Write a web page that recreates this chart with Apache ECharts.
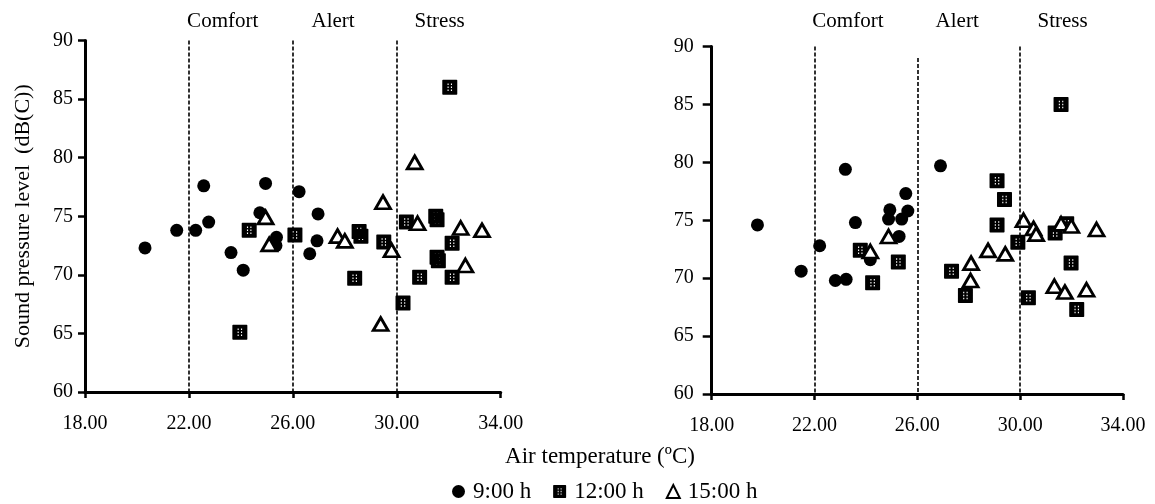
<!DOCTYPE html>
<html>
<head>
<meta charset="utf-8">
<title>Sound pressure level vs air temperature</title>
<script src="https://cdn.jsdelivr.net/npm/echarts@6/dist/echarts.min.js"></script>
<style>
    html, body { margin: 0; padding: 0; background: #fff; }
    #chart { width: 1155px; height: 504px; }
</style>
</head>
<body>
<div id="chart"></div>
<script>
// 坐标轴刻度
const xTicks = [18, 22, 26, 30, 34];
const yTicks = [60, 65, 70, 75, 80, 85, 90];

// 分区名称与标注位置（温度）
const zoneNames = ['Comfort', 'Alert', 'Stress'];
const zoneLabelX = [23.3, 27.55, 31.65];
const zoneLines = [22, 26, 30];
// 虚线顶端（dB）
const zoneTopLeft = [90, 90, 90];
const zoneTopRight = [90, 89, 90];

// 图例名称
const seriesNames = ['9:00 h', '12:00 h', '15:00 h'];

// 左图数据 [气温, 声压级]
const left9 = [[20.31, 72.3], [21.53, 73.8], [22.26, 73.8], [22.57, 77.6], [22.76, 74.5],
    [23.62, 71.9], [24.09, 70.4], [24.73, 75.3], [24.95, 77.8], [25.37, 73.2],
    [25.35, 72.5], [26.24, 77.1], [26.97, 75.2], [26.93, 72.9], [26.65, 71.8]];
const left12 = [[24.32, 73.8], [23.96, 65.1], [26.08, 73.4], [28.38, 69.7], [28.55, 73.7],
    [28.62, 73.3], [29.5, 72.8], [30.37, 74.5], [30.88, 69.8], [30.24, 67.6],
    [31.5, 75.0], [31.55, 74.7], [32.13, 72.7], [31.55, 71.5], [31.6, 71.2],
    [32.13, 69.8], [32.04, 86.0]];
const left15 = [[24.95, 74.9], [25.09, 72.6], [27.72, 73.3], [28.0, 72.9], [29.47, 76.2],
    [29.8, 72.1], [29.38, 65.8], [30.8, 74.4], [30.69, 79.6], [32.46, 74.0],
    [33.28, 73.8], [32.64, 70.8]];

// 右图数据 [气温, 声压级]
const right9 = [[19.78, 74.6], [21.48, 70.6], [22.2, 72.8], [22.81, 69.8], [23.23, 69.9],
    [23.2, 79.4], [23.59, 74.8], [24.17, 71.6], [24.88, 75.1], [24.93, 75.9],
    [25.29, 73.6], [25.39, 75.1], [25.63, 75.8], [25.55, 77.3], [26.9, 79.7]];
const right12 = [[23.78, 72.4], [24.26, 69.6], [25.26, 71.4], [27.33, 70.6], [27.87, 68.5],
    [29.1, 74.6], [29.39, 76.8], [29.1, 78.4], [29.91, 73.1], [30.32, 68.3],
    [31.36, 73.9], [31.81, 74.7], [31.98, 71.3], [32.2, 67.3], [31.59, 85.0]];
const right15 = [[24.17, 72.3], [24.88, 73.6], [28.09, 71.3], [28.07, 69.8], [28.75, 72.4],
    [29.42, 72.1], [30.13, 75.0], [30.52, 74.3], [30.62, 73.8], [31.59, 74.7],
    [31.99, 74.5], [32.97, 74.2], [31.33, 69.3], [31.74, 68.8], [32.58, 69.0]];

const FONT = 'Liberation Serif';

// 带白点的方块符号
const dotSquare = 'path://M1 0H19Q20 0 20 1V19Q20 20 19 20H1Q0 20 0 19V1Q0 0 1 0Z' +
    'M7 5V7H8.5V5Z M11.5 5V7H13V5Z' +
    'M7 9V11H8.5V9Z M11.5 9V11H13V9Z' +
    'M7 13V15H8.5V13Z M11.5 13V15H13V13Z';

document.addEventListener('DOMContentLoaded', function() {
    const chart = echarts.init(document.getElementById('chart'), null, { renderer: 'canvas' });

    // 横轴
    const makeXAxis = (gridIndex) => ({
        type: 'value',
        gridIndex: gridIndex,
        min: xTicks[0],
        max: xTicks[xTicks.length - 1],
        interval: 4,
        splitLine: { show: false },
        axisLine: { lineStyle: { color: '#000', width: 3 } },
        axisTick: { inside: false, length: 6, lineStyle: { color: '#000', width: 2.5 } },
        axisLabel: {
            color: '#000', fontFamily: FONT, fontSize: 20, margin: 22,
            formatter: v => v.toFixed(2)
        }
    });

    // 纵轴
    const makeYAxis = (gridIndex, withName, tickLen, labelGap) => ({
        type: 'value',
        gridIndex: gridIndex,
        min: yTicks[0],
        max: yTicks[yTicks.length - 1],
        interval: 5,
        name: withName ? 'Sound pressure level  (dB(C))' : '',
        nameLocation: 'middle',
        nameGap: 51,
        nameTextStyle: { color: '#000', fontFamily: FONT, fontSize: 22 },
        splitLine: { show: false },
        axisLine: { show: true, lineStyle: { color: '#000', width: 3 } },
        axisTick: { show: true, length: tickLen, lineStyle: { color: '#000', width: 2.5 } },
        axisLabel: { color: '#000', fontFamily: FONT, fontSize: 20, margin: labelGap }
    });

    // 分区虚线
    const makeZoneLines = (tops) => ({
        silent: true,
        symbol: 'none',
        animation: false,
        label: { show: false },
        lineStyle: { color: '#000', type: [4, 2], width: 1.6, opacity: 1 },
        emphasis: { disabled: true },
        data: zoneLines.map((x, i) => [{ coord: [x, tops[i]] }, { coord: [x, yTicks[0]] }])
    });

    const circleStyle = { symbol: 'circle', symbolSize: 13, itemStyle: { color: '#000', opacity: 1 } };
    const squareStyle = { symbol: dotSquare, symbolSize: 15, itemStyle: { color: '#000', opacity: 1 } };
    const triStyle = {
        symbol: 'triangle', symbolSize: [15, 13],
        itemStyle: { color: '#fff', borderColor: '#000', borderWidth: 2.8, opacity: 1 }
    };

    const makeSeries = (name, data, gridIndex, style, extra) => Object.assign({
        name: name,
        type: 'scatter',
        xAxisIndex: gridIndex,
        yAxisIndex: gridIndex,
        data: data,
        animation: false,
        emphasis: { disabled: true }
    }, style, extra || {});

    const option = {
        backgroundColor: '#fff',
        textStyle: { fontFamily: FONT },
        grid: [
            { left: 85, top: 40.5, width: 415.7, height: 351.5 },
            { left: 711.7, top: 46.5, width: 411.3, height: 347.5 }
        ],
        xAxis: [makeXAxis(0), makeXAxis(1)],
        yAxis: [makeYAxis(0, true, 7, 12), makeYAxis(1, false, 9, 18)],
        legend: {
            data: seriesNames,
            left: 447,
            top: 475,
            itemWidth: 13,
            itemHeight: 13,
            itemGap: 22,
            textStyle: { color: '#000', fontFamily: FONT, fontSize: 23, padding: [0, 0, 0, 3] }
        },
        series: [
            makeSeries(seriesNames[0], left9, 0, circleStyle, { markLine: makeZoneLines(zoneTopLeft) }),
            makeSeries(seriesNames[1], left12, 0, squareStyle),
            makeSeries(seriesNames[2], left15, 0, triStyle),
            makeSeries(seriesNames[0], right9, 1, circleStyle, { markLine: makeZoneLines(zoneTopRight) }),
            makeSeries(seriesNames[1], right12, 1, squareStyle),
            makeSeries(seriesNames[2], right15, 1, triStyle)
        ]
    };

    chart.setOption(option);

    // 分区标题与横轴标题
    const texts = [];
    [0, 1].forEach(g => {
        zoneNames.forEach((name, i) => {
            const p = chart.convertToPixel({ xAxisIndex: g, yAxisIndex: g }, [zoneLabelX[i], 90]);
            texts.push({
                type: 'text', x: p[0], y: 21,
                style: {
                    text: name, fill: '#000', font: '21px "' + FONT + '"',
                    textAlign: 'center', textVerticalAlign: 'middle'
                }
            });
        });
    });
    texts.push({
        type: 'text', x: 600, y: 457,
        style: {
            text: 'Air temperature (ºC)', fill: '#000', font: '23px "' + FONT + '"',
            textAlign: 'center', textVerticalAlign: 'middle'
        }
    });
    chart.setOption({ graphic: texts });
});
</script>
</body>
</html>
